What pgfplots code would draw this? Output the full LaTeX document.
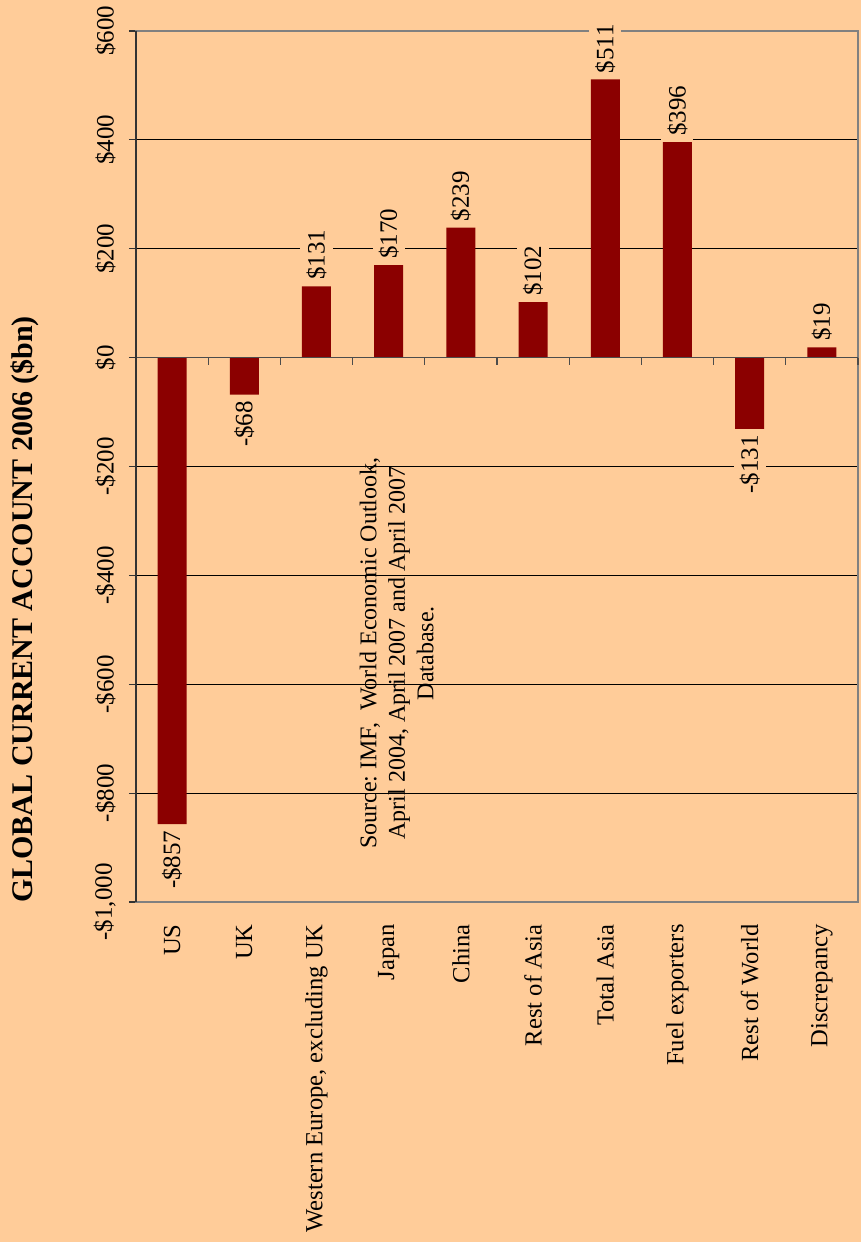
\documentclass[border=0pt]{standalone}
\usepackage{pgfplots}
\pgfplotsset{compat=1.18}
\usepackage{fontspec}
\setmainfont{Liberation Serif}
\definecolor{peach}{RGB}{255,204,153}
\definecolor{barred}{RGB}{139,0,0}
\definecolor{axgray}{RGB}{128,128,128}
\newcommand\lbl{\fontsize{12.5}{14.25}\selectfont}
\frenchspacing
\begin{document}
\begin{tikzpicture}
\useasboundingbox[fill=peach] (-68pt,-170pt) rectangle (362.5pt,451pt);
\begin{axis}[
  at={(0,0)}, anchor=south west, scale only axis,
  width=361pt, height=435.5pt,
  xmin=-0.5, xmax=9.5, ymin=-1000, ymax=600,
  ytick={-1000,-800,-600,-400,-200,0,200,400,600},
  yticklabels={{-\$1,000},{-\$800},{-\$600},{-\$400},{-\$200},{\$0},{\$200},{\$400},{\$600}},
  xtick={0,1,2,3,4,5,6,7,8,9},
  xticklabels={US,UK,{Western Europe, excluding UK},Japan,China,{Rest of Asia},{Total Asia},{Fuel exporters},{Rest of World},Discrepancy},
  ymajorgrids, grid style={black, line width=0.5pt},
  axis line style={axgray, line width=0.6pt},
  ytick pos=left, xtick pos=bottom, tick align=outside,
  ytick style={black!80, line width=0.6pt}, major tick length=3.5pt,
  xtick style={draw=none},
  yticklabel style={rotate=90, anchor=south, font=\lbl, inner sep=2pt},
  yticklabel shift=4.5pt,
  xticklabel style={rotate=90, anchor=east, font=\fontsize{12.3}{14}\selectfont, inner sep=0pt},
  xticklabel shift=7.5pt,
  clip=false,
  point meta=explicit symbolic,
  nodes near coords,
]
\addplot[ybar, bar width=14.5pt, bar shift=0pt, fill=barred, draw=none,
  nodes near coords style={rotate=90, anchor=west, fill=peach, inner sep=3pt, font=\lbl}]
  coordinates {(2,131) [\$131] (3,170) [\$170] (4,239) [\$239] (5,102) [\$102] (6,511) [\$511] (7,396) [\$396] (9,19) [\$19]};
\addplot[ybar, bar width=14.5pt, bar shift=0pt, fill=barred, draw=none,
  nodes near coords style={rotate=90, anchor=east, fill=peach, inner sep=3pt, font=\lbl}]
  coordinates {(0,-857) [-\$857] (1,-68) [-\$68] (8,-131) [-\$131]};
\draw[black!70, line width=0.6pt] (axis cs:-0.5,0) -- (axis cs:9.5,0);
\pgfplotsinvokeforeach{0.5,1.5,2.5,3.5,4.5,5.5,6.5,7.5,8.5,9.5}{
  \draw[black!70, line width=0.6pt] (axis cs:#1,0) -- ([yshift=-3.5pt]axis cs:#1,0);
}
\draw[black!80, line width=0.6pt] (rel axis cs:0,0) -- (rel axis cs:0,1);
\node[rotate=90, align=center, font=\fontsize{12}{14.25}\selectfont] at (axis cs:3.11,-543)
  {Source: IMF,\ \ World Economic Outlook,\\April 2004, April 2007 and April 2007\\Database.};
\node[rotate=90, font=\bfseries\fontsize{15}{18}\selectfont] at ([xshift=-55.5pt]rel axis cs:0,0.336)
  {GLOBAL CURRENT ACCOUNT 2006 (\$bn)};
\end{axis}
\end{tikzpicture}
\end{document}
